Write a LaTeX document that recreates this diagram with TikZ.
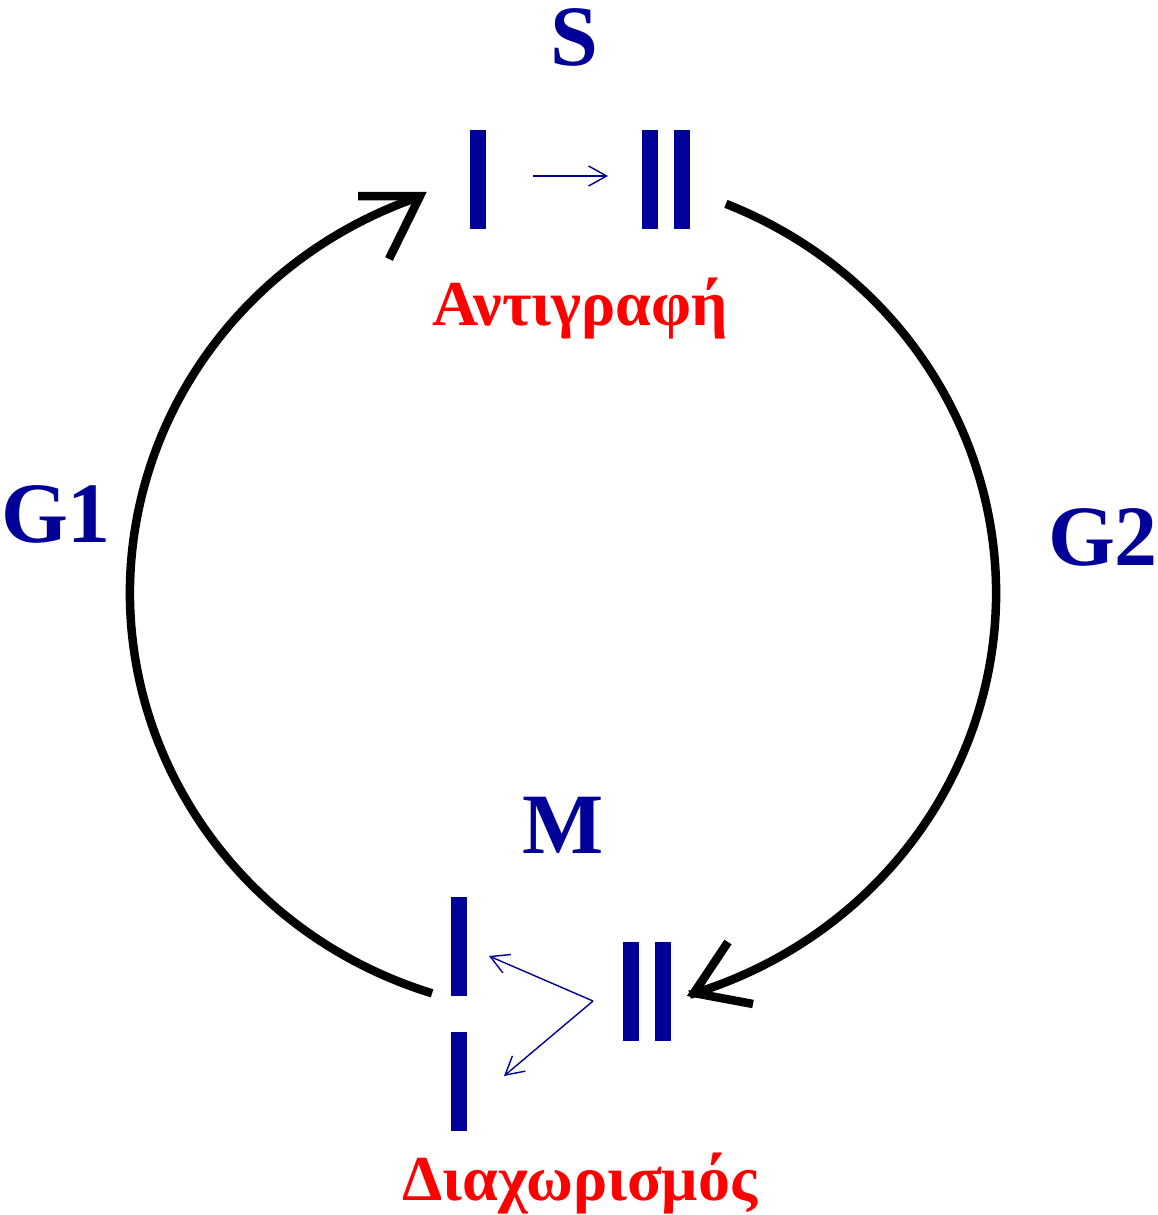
\documentclass[tikz,border=0pt]{standalone}
\usepackage{fontspec}
\setmainfont{Liberation Serif}[BoldFont={Liberation Serif Bold}]
\newfontfamily\tnrb{Liberation Serif Bold}
\usetikzlibrary{arrows.meta,calc}
\definecolor{dblue}{RGB}{0,0,153}
\begin{document}
\begin{tikzpicture}[x=1pt,y=-1pt,
  lbl/.style={text=dblue, font=\tnrb\fontsize{86}{86}\selectfont, inner sep=0pt},
  glbl/.style={text=red, font=\tnrb\fontsize{64}{64}\selectfont, inner sep=0pt},
  bar/.style={fill=dblue, draw=none, minimum width=16pt, minimum height=99pt, inner sep=0pt, outer sep=0pt},
  cyc/.style={line width=8.5pt, black, line cap=butt},
  head/.style={line width=8.5pt, black, line join=miter, line cap=butt},
  thinarrow/.style={dblue, line width=1.4pt, -{Straight Barb[length=18pt, width=20pt, line width=1.4pt]}}
]
\useasboundingbox (0,0) rectangle (1158,1215);

% labels
\node[lbl, anchor=base] (S) at (574,66) {S};
\node[lbl, anchor=base] (M) at (563,853) {M};
\node[lbl, anchor=base] (G1) at (56,542) {G1};
\node[lbl, anchor=base] (G2) at (1103,565) {G2};
\node[glbl, anchor=base] (rep) at (580,325) {Αντιγραφή};
\node[glbl, anchor=base] (sep) at (580,1200) {Διαχωρισμός};

% chromosome bars (S phase)
\node[bar] (sI) at (477.8,179.5) {};
\node[bar] (sIIa) at (650,179.5) {};
\node[bar] (sIIb) at (681.5,179.5) {};
% chromosome bars (M phase)
\node[bar] (mIa) at (459,946) {};
\node[bar] (mIb) at (459,1081) {};
\node[bar] (mIIa) at (631,991) {};
\node[bar] (mIIb) at (662.5,991) {};

% thin arrows
\coordinate (repfrom) at (533,176);
\coordinate (repto) at (608,176);
\draw[thinarrow] (repfrom) -- (repto);
\coordinate (split) at (593,1001);
\coordinate (splitup) at (489,956);
\coordinate (splitdown) at (504,1076);
\draw[thinarrow] (split) -- (splitup);
\draw[thinarrow] (split) -- (splitdown);

% big cycle arcs (ellipse centre (563,593), radii 433 x 420)
\coordinate (ctr) at (563,593);
\coordinate (g1start) at ($(ctr)+(107.6:433 and 420)$);
\coordinate (g2start) at ($(ctr)+(-67.9:433 and 420)$);
\draw[cyc] (g1start) arc[start angle=107.6, end angle=250.9, x radius=433, y radius=420];
\draw[cyc] (g2start) arc[start angle=-67.9, end angle=73, x radius=433, y radius=420];

% open arrowheads
\coordinate (tipS) at (420,196);
\coordinate (tipM) at (694,993);
\draw[head] (358,196) -- (tipS) -- (389,259);
\draw[head] (728,942) -- (tipM) -- (753,1004);
\end{tikzpicture}
\end{document}
